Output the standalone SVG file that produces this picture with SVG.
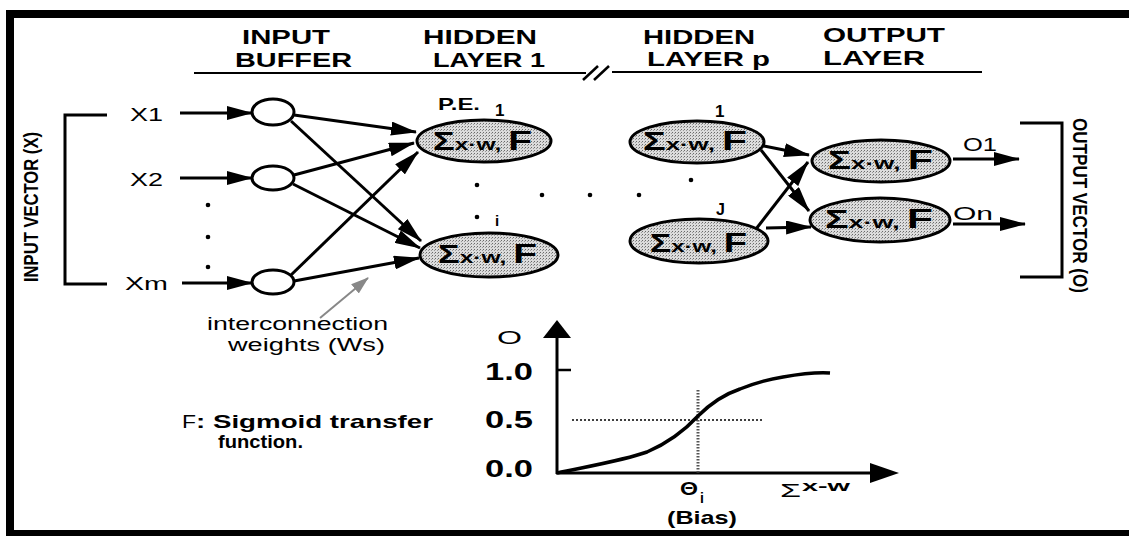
<svg xmlns="http://www.w3.org/2000/svg" width="1129" height="536" viewBox="0 0 1129 536">
<style>
.hdr{font-family:"Liberation Sans",Arial,sans-serif;font-weight:bold;font-size:21px;fill:#000}
.lbl{font-family:"Liberation Sans",Arial,sans-serif;font-size:18px;fill:#000}
.b{font-family:"Liberation Sans",Arial,sans-serif;font-weight:bold;fill:#000}
.ln{stroke:#000;stroke-width:3;fill:none}
.arr{stroke:#000;stroke-width:3;fill:none;marker-end:url(#ah)}
.pe{fill:url(#stip);stroke:#000;stroke-width:3}
.inp{fill:#fff;stroke:#000;stroke-width:3}
</style>
<defs>
<marker id="ah" markerUnits="userSpaceOnUse" viewBox="0 0 26 14" markerWidth="26" markerHeight="14" refX="25" refY="7" orient="auto">
<path d="M0,0 L26,7 L0,14 z" fill="#000"/>
</marker>
<marker id="ahg" markerUnits="userSpaceOnUse" viewBox="0 0 18 12" markerWidth="18" markerHeight="12" refX="17" refY="6" orient="auto">
<path d="M0,0 L18,6 L0,12 z" fill="#888"/>
</marker>
<pattern id="stip" width="3" height="3" patternUnits="userSpaceOnUse">
<rect width="3" height="3" fill="#dcdcdc"/>
<rect x="0" y="0" width="1" height="1" fill="#6a6a6a"/>
<rect x="2" y="1" width="1" height="1" fill="#9a9a9a"/>
</pattern>
</defs>
<rect width="1129" height="536" fill="#fff"/>
<g id="frame">
<rect x="6" y="10" width="1123" height="8" fill="#000"/>
<rect x="6" y="10" width="8" height="526" fill="#000"/>
<rect x="6" y="530" width="1123" height="6" fill="#000"/>
</g>
<g id="headers">
<text class="hdr" x="242" y="44" textLength="88" lengthAdjust="spacingAndGlyphs">INPUT</text>
<text class="hdr" x="235" y="67" textLength="117" lengthAdjust="spacingAndGlyphs">BUFFER</text>
<text class="hdr" x="423" y="44" textLength="114" lengthAdjust="spacingAndGlyphs">HIDDEN</text>
<text class="hdr" x="433" y="67" textLength="112" lengthAdjust="spacingAndGlyphs">LAYER 1</text>
<text class="hdr" x="643" y="44" textLength="112" lengthAdjust="spacingAndGlyphs">HIDDEN</text>
<text class="hdr" x="647" y="66" textLength="123" lengthAdjust="spacingAndGlyphs">LAYER p</text>
<text class="hdr" x="823" y="42" textLength="122" lengthAdjust="spacingAndGlyphs">OUTPUT</text>
<text class="hdr" x="823" y="65" textLength="102" lengthAdjust="spacingAndGlyphs">LAYER</text>
<line x1="194" y1="73" x2="586" y2="73" stroke="#000" stroke-width="2"/>
<line x1="612" y1="72" x2="982" y2="72" stroke="#000" stroke-width="2"/>
<line x1="583" y1="80" x2="598" y2="66" stroke="#000" stroke-width="2.5"/>
<line x1="594" y1="80" x2="609" y2="66" stroke="#000" stroke-width="2.5"/>
</g>
<g id="input-vector">
<path class="ln" d="M107,115 H65 V284 H107" stroke-width="2.5"/>
<text class="b" font-size="20" transform="translate(38,282) rotate(-90)" textLength="150" lengthAdjust="spacingAndGlyphs">INPUT VECTOR (X)</text>
</g>
<g id="output-vector">
<path class="ln" d="M1020,123 H1062 V277 H1020" stroke-width="2.5"/>
<text class="b" font-size="21" transform="translate(1073,118) rotate(90)" textLength="175" lengthAdjust="spacingAndGlyphs">OUTPUT VECTOR (O)</text>
</g>
<g id="connectors">
<line class="arr" x1="180" y1="113" x2="252" y2="113"/>
<line class="arr" x1="180" y1="178" x2="252" y2="178"/>
<line class="arr" x1="182" y1="283" x2="252" y2="283"/>
<line class="arr" x1="294" y1="115" x2="416" y2="132"/>
<line class="arr" x1="291" y1="121" x2="421" y2="241"/>
<line class="arr" x1="294" y1="175" x2="414" y2="143"/>
<line class="arr" x1="293" y1="184" x2="420" y2="248"/>
<line class="arr" x1="290" y1="276" x2="418" y2="152"/>
<line class="arr" x1="294" y1="281" x2="419" y2="258"/>
<line class="arr" x1="764" y1="146" x2="809" y2="155"/>
<line class="arr" x1="761" y1="150" x2="809" y2="211"/>
<line class="arr" x1="756" y1="229" x2="808" y2="162"/>
<line class="arr" x1="766" y1="228" x2="811" y2="227"/>
<line class="arr" x1="953" y1="159" x2="1019" y2="159"/>
<line class="arr" x1="953" y1="224" x2="1025" y2="224"/>
<line x1="320" y1="318" x2="368" y2="278" stroke="#888" stroke-width="2" marker-end="url(#ahg)"/>
</g>
<g id="in1"><ellipse class="inp" cx="273" cy="112" rx="21" ry="13"/><text class="lbl" font-size="19" x="130" y="121" textLength="33" lengthAdjust="spacingAndGlyphs">X1</text></g>
<g id="in2"><ellipse class="inp" cx="273" cy="178" rx="21" ry="12"/><text class="lbl" font-size="19" x="130" y="186" textLength="33" lengthAdjust="spacingAndGlyphs">X2</text></g>
<g id="inm"><ellipse class="inp" cx="273" cy="282" rx="21" ry="12"/><text class="lbl" font-size="19" x="125" y="290" textLength="43" lengthAdjust="spacingAndGlyphs">Xm</text></g>
<g id="in-dots" fill="#000"><circle cx="208" cy="205" r="2.3"/><circle cx="208" cy="237" r="2.3"/><circle cx="208" cy="267" r="2.3"/></g>
<g id="h1-1">
<ellipse class="pe" cx="484" cy="141" rx="67" ry="21"/>
<text class="b" x="433" y="150" textLength="99" lengthAdjust="spacingAndGlyphs"><tspan font-size="25">Σ</tspan><tspan font-size="17">x·w, </tspan><tspan font-size="27">F</tspan></text>
<text class="b" font-size="17" x="438" y="110" textLength="42" lengthAdjust="spacingAndGlyphs">P.E.</text>
<text class="b" font-size="17" x="495" y="116">1</text>
</g>
<g id="h1-i">
<ellipse class="pe" cx="489" cy="255" rx="69" ry="22"/>
<text class="b" x="438" y="263" textLength="99" lengthAdjust="spacingAndGlyphs"><tspan font-size="25">Σ</tspan><tspan font-size="17">x·w, </tspan><tspan font-size="27">F</tspan></text>
<text class="b" font-size="15" x="495" y="226">i</text>
</g>
<g id="hp-1">
<ellipse class="pe" cx="697" cy="142" rx="67" ry="21"/>
<text class="b" x="643" y="150" textLength="104" lengthAdjust="spacingAndGlyphs"><tspan font-size="25">Σ</tspan><tspan font-size="17">x·w, </tspan><tspan font-size="27">F</tspan></text>
<text class="b" font-size="17" x="715" y="117">1</text>
</g>
<g id="hp-j">
<ellipse class="pe" cx="699" cy="241" rx="69" ry="22"/>
<text class="b" x="650" y="252" textLength="97" lengthAdjust="spacingAndGlyphs"><tspan font-size="25">Σ</tspan><tspan font-size="17">x·w, </tspan><tspan font-size="27">F</tspan></text>
<text class="b" font-size="16" x="716" y="215">J</text>
</g>
<g id="mid-dots" fill="#000">
<circle cx="477" cy="185" r="2.3"/><circle cx="477" cy="217" r="2.3"/>
<circle cx="542" cy="195" r="2.3"/><circle cx="590" cy="195" r="2.3"/><circle cx="639" cy="195" r="2.3"/>
<circle cx="691" cy="180" r="2.3"/>
</g>
<g id="out-1">
<ellipse class="pe" cx="881" cy="161" rx="69" ry="21"/>
<text class="b" x="828" y="169" textLength="105" lengthAdjust="spacingAndGlyphs"><tspan font-size="25">Σ</tspan><tspan font-size="17">x·w, </tspan><tspan font-size="27">F</tspan></text>
<text class="lbl" font-size="19" x="963" y="151" textLength="34" lengthAdjust="spacingAndGlyphs">O1</text>
</g>
<g id="out-n">
<ellipse class="pe" cx="880" cy="220" rx="70" ry="22"/>
<text class="b" x="825" y="228" textLength="108" lengthAdjust="spacingAndGlyphs"><tspan font-size="25">Σ</tspan><tspan font-size="17">x·w, </tspan><tspan font-size="27">F</tspan></text>
<text class="lbl" font-size="19" x="953" y="220" textLength="40" lengthAdjust="spacingAndGlyphs">On</text>
</g>
<g id="weights-label">
<text class="lbl" font-size="18" x="207" y="330" textLength="181" lengthAdjust="spacingAndGlyphs">interconnection</text>
<text class="lbl" font-size="18" x="228" y="351" textLength="157" lengthAdjust="spacingAndGlyphs">weights (Ws)</text>
</g>
<g id="legend">
<text class="lbl" font-size="21" x="182" y="428" textLength="14" lengthAdjust="spacingAndGlyphs">F</text>
<text class="b" font-size="19" x="196" y="428" textLength="237" lengthAdjust="spacingAndGlyphs">: Sigmoid transfer</text>
<text class="b" font-size="19" x="218" y="448" textLength="85" lengthAdjust="spacingAndGlyphs">function.</text>
</g>
<g id="graph">
<line x1="557" y1="335" x2="557" y2="474" stroke="#000" stroke-width="3"/>
<polygon points="557,320 543,338 571,338" fill="#000"/>
<line x1="556" y1="473" x2="874" y2="473" stroke="#000" stroke-width="3"/>
<polygon points="899,473 870,463 870,483" fill="#000"/>
<line x1="557" y1="370" x2="571" y2="370" stroke="#000" stroke-width="2.5"/>
<line x1="572" y1="420" x2="762" y2="420" stroke="#000" stroke-width="1.5" stroke-dasharray="2,2"/>
<line x1="698" y1="390" x2="698" y2="473" stroke="#555" stroke-width="3" stroke-dasharray="1.5,1.5"/>
<path d="M557,473 C590,466 625,460 647,452 C668,443 685,430 698,416 C712,402 725,394 740,389 C755,383 770,379 783,377 C800,374 815,372 830,373" fill="none" stroke="#000" stroke-width="3.5"/>
<text class="lbl" font-size="26" x="497" y="344" textLength="25" lengthAdjust="spacingAndGlyphs">O</text>
<text class="b" font-size="23" x="485" y="380" textLength="48" lengthAdjust="spacingAndGlyphs">1.0</text>
<text class="b" font-size="23" x="485" y="428" textLength="48" lengthAdjust="spacingAndGlyphs">0.5</text>
<text class="b" font-size="23" x="485" y="477" textLength="48" lengthAdjust="spacingAndGlyphs">0.0</text>
<text class="b" font-size="18" x="680" y="495" textLength="18" lengthAdjust="spacingAndGlyphs">Θ</text>
<text class="b" font-size="14" x="700" y="503">i</text>
<text class="b" font-size="19" x="667" y="524" textLength="70" lengthAdjust="spacingAndGlyphs">(Bias)</text>
<text class="lbl" font-size="22" x="780" y="497" textLength="21" lengthAdjust="spacingAndGlyphs">Σ</text>
<text class="b" font-size="15" x="802" y="491" textLength="48" lengthAdjust="spacingAndGlyphs">x-w</text>
</g>
</svg>
